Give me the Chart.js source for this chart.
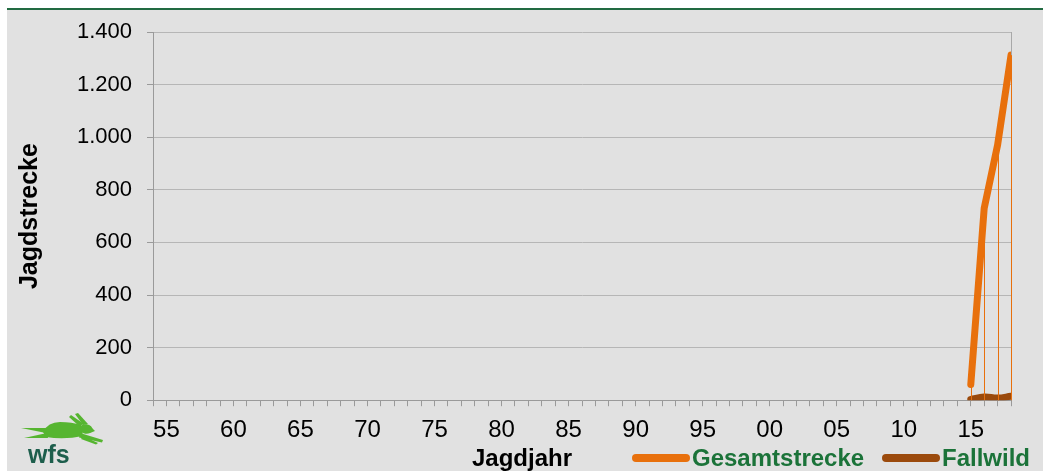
<!DOCTYPE html>
<html>
<head>
<meta charset="utf-8">
<script src="https://cdn.jsdelivr.net/npm/chart.js@4/dist/chart.umd.min.js"></script>
<style>
  html, body { margin: 0; padding: 0; background: #ffffff; }
  #wrap { width: 1043px; height: 471px; }
</style>
</head>
<body>
<div id="wrap"><canvas id="strecke"></canvas></div>
<script>
// Jagdjahre mit Werten
const years = [2015, 2016, 2017, 2018];
const gesamtstrecke = [60, 730, 970, 1312];
const fallwild = [3, 12, 8, 15];

// Achse
const firstYear = 1954;
const lastYear = 2018;
const labelYears = [1955, 1960, 1965, 1970, 1975, 1980, 1985, 1990, 1995, 2000, 2005, 2010, 2015];
const yTicks = [0, 200, 400, 600, 800, 1000, 1200, 1400];

const FONT = "'Liberation Sans', Arial, sans-serif";
const ORANGE = '#E8700C';
const BROWN = '#9B4A0C';
const GREEN_TEXT = '#1B7339';

const toPoints = (xs, ys) => xs.map((x, i) => ({ x: x, y: ys[i] }));

const poly = (ctx, pts) => {
    ctx.beginPath();
    ctx.moveTo(pts[0][0], pts[0][1]);
    pts.slice(1).forEach(p => ctx.lineTo(p[0], p[1]));
    ctx.closePath();
    ctx.fill();
};

// Hintergrund, grüne Linie oben, Logo
const backdrop = {
    id: 'backdrop',
    beforeDraw(chart) {
        const { ctx, width, height } = chart;
        ctx.save();
        ctx.fillStyle = '#ffffff';
        ctx.fillRect(0, 0, width, height);
        ctx.fillStyle = '#e1e1e1';
        ctx.fillRect(7, 10, width - 7, height - 10);
        ctx.fillStyle = '#226b42';
        ctx.fillRect(7, 8, width - 7, 2);
        ctx.restore();
    },
    afterDraw(chart) {
        const ctx = chart.ctx;
        ctx.save();
        // Hase
        ctx.fillStyle = '#56b530';
        ctx.beginPath();
        ctx.moveTo(43, 432);
        ctx.quadraticCurveTo(48, 422, 60, 422);
        ctx.quadraticCurveTo(72, 422, 81, 425);
        ctx.lineTo(83, 436);
        ctx.quadraticCurveTo(64, 440, 46, 437);
        ctx.closePath();
        ctx.fill();
        ctx.beginPath();
        ctx.ellipse(86, 429, 6.5, 4.8, 0.15, 0, Math.PI * 2);
        ctx.fill();
        poly(ctx, [[92, 428], [95, 431], [90, 433]]);
        // Ohren
        poly(ctx, [[79, 426], [69, 417], [71, 415], [84, 424]]);
        poly(ctx, [[83, 425], [75, 414], [78, 413], [88, 424]]);
        // Hinterläufe
        poly(ctx, [[21, 428], [47, 428], [46, 433]]);
        poly(ctx, [[24, 438], [47, 433], [48, 438]]);
        // Vorderläufe
        poly(ctx, [[80, 433], [103, 440], [102, 442.5], [79, 437.5]]);
        poly(ctx, [[83, 436], [98, 443], [96, 444.5], [81, 439]]);
        // wfs
        ctx.fillStyle = '#1d5e4c';
        ctx.font = "bold 25px " + FONT;
        ctx.textBaseline = 'alphabetic';
        ctx.fillText('wfs', 28, 463);
        ctx.restore();
    }
};

// Lotlinien von der Gesamtstrecke zur Achse
const dropLines = {
    id: 'dropLines',
    afterDatasetsDraw(chart) {
        const meta = chart.getDatasetMeta(0);
        const ctx = chart.ctx;
        const bottom = chart.chartArea.bottom;
        ctx.save();
        ctx.strokeStyle = ORANGE;
        ctx.lineWidth = 1;
        meta.data.forEach(pt => {
            const x = Math.round(pt.x) + 0.5;
            ctx.beginPath();
            ctx.moveTo(x, pt.y);
            ctx.lineTo(x, bottom);
            ctx.stroke();
        });
        ctx.restore();
    }
};

// Achsentitel und Legende in der unteren Zeile
const bottomRow = {
    id: 'bottomRow',
    afterDraw(chart) {
        const ctx = chart.ctx;
        const y = 458;
        const items = [
            { ds: chart.data.datasets[0], x: 632 },
            { ds: chart.data.datasets[1], x: 882 }
        ];
        ctx.save();
        ctx.font = "bold 24px " + FONT;
        ctx.textBaseline = 'middle';
        ctx.fillStyle = '#000000';
        ctx.textAlign = 'center';
        ctx.fillText('Jagdjahr', 522, y + 1);
        ctx.textAlign = 'left';
        items.forEach(it => {
            ctx.strokeStyle = it.ds.borderColor;
            ctx.lineWidth = 8;
            ctx.lineCap = 'round';
            ctx.beginPath();
            ctx.moveTo(it.x + 4, y);
            ctx.lineTo(it.x + 54, y);
            ctx.stroke();
            ctx.fillStyle = GREEN_TEXT;
            ctx.fillText(it.ds.label, it.x + 60, y + 1);
        });
        ctx.restore();
    }
};

new Chart(document.getElementById('strecke'), {
    type: 'line',
    data: {
        datasets: [{
            label: 'Gesamtstrecke',
            data: toPoints(years, gesamtstrecke),
            borderColor: ORANGE,
            backgroundColor: ORANGE,
            borderWidth: 7,
            borderCapStyle: 'round',
            borderJoinStyle: 'round',
            pointRadius: 0,
            tension: 0
        }, {
            label: 'Fallwild',
            data: toPoints(years, fallwild),
            borderColor: BROWN,
            backgroundColor: BROWN,
            borderWidth: 7,
            borderCapStyle: 'round',
            borderJoinStyle: 'round',
            pointRadius: 0,
            tension: 0.4
        }]
    },
    options: {
        responsive: true,
        maintainAspectRatio: false,
        animation: false,
        layout: { padding: { top: 32, right: 32, left: 7, bottom: 16 } },
        plugins: {
            legend: { display: false },
            tooltip: { enabled: false }
        },
        scales: {
            x: {
                type: 'linear',
                min: firstYear,
                max: lastYear,
                border: { color: '#9a9a9a' },
                grid: {
                    drawOnChartArea: true,
                    color: c => (c.tick && c.tick.value === lastYear) ? '#a8a8a8' : 'rgba(0,0,0,0)',
                    tickColor: '#9a9a9a',
                    tickLength: 6
                },
                ticks: {
                    stepSize: 1,
                    autoSkip: false,
                    maxTicksLimit: 100,
                    maxRotation: 0,
                    padding: 10,
                    color: '#000000',
                    font: { family: FONT, size: 24 },
                    callback: v => labelYears.includes(v) ? String(v).slice(2) : ''
                }
            },
            y: {
                min: 0,
                max: 1400,
                afterBuildTicks: s => { s.ticks = yTicks.map(v => ({ value: v })); },
                afterFit: s => { s.width = 146; },
                border: { color: '#9a9a9a' },
                grid: {
                    color: '#b6b6b6',
                    tickColor: '#9a9a9a',
                    tickLength: 6
                },
                ticks: {
                    padding: 15,
                    color: '#000000',
                    font: { family: FONT, size: 22 },
                    callback: v => String(v).replace(/\B(?=(\d{3})+(?!\d))/g, '.')
                },
                title: {
                    display: true,
                    text: 'Jagdstrecke',
                    color: '#000000',
                    font: { family: FONT, size: 25, weight: 'bold' },
                    padding: { top: 8, bottom: 0 }
                }
            }
        }
    },
    plugins: [backdrop, dropLines, bottomRow]
});
</script>
</body>
</html>
